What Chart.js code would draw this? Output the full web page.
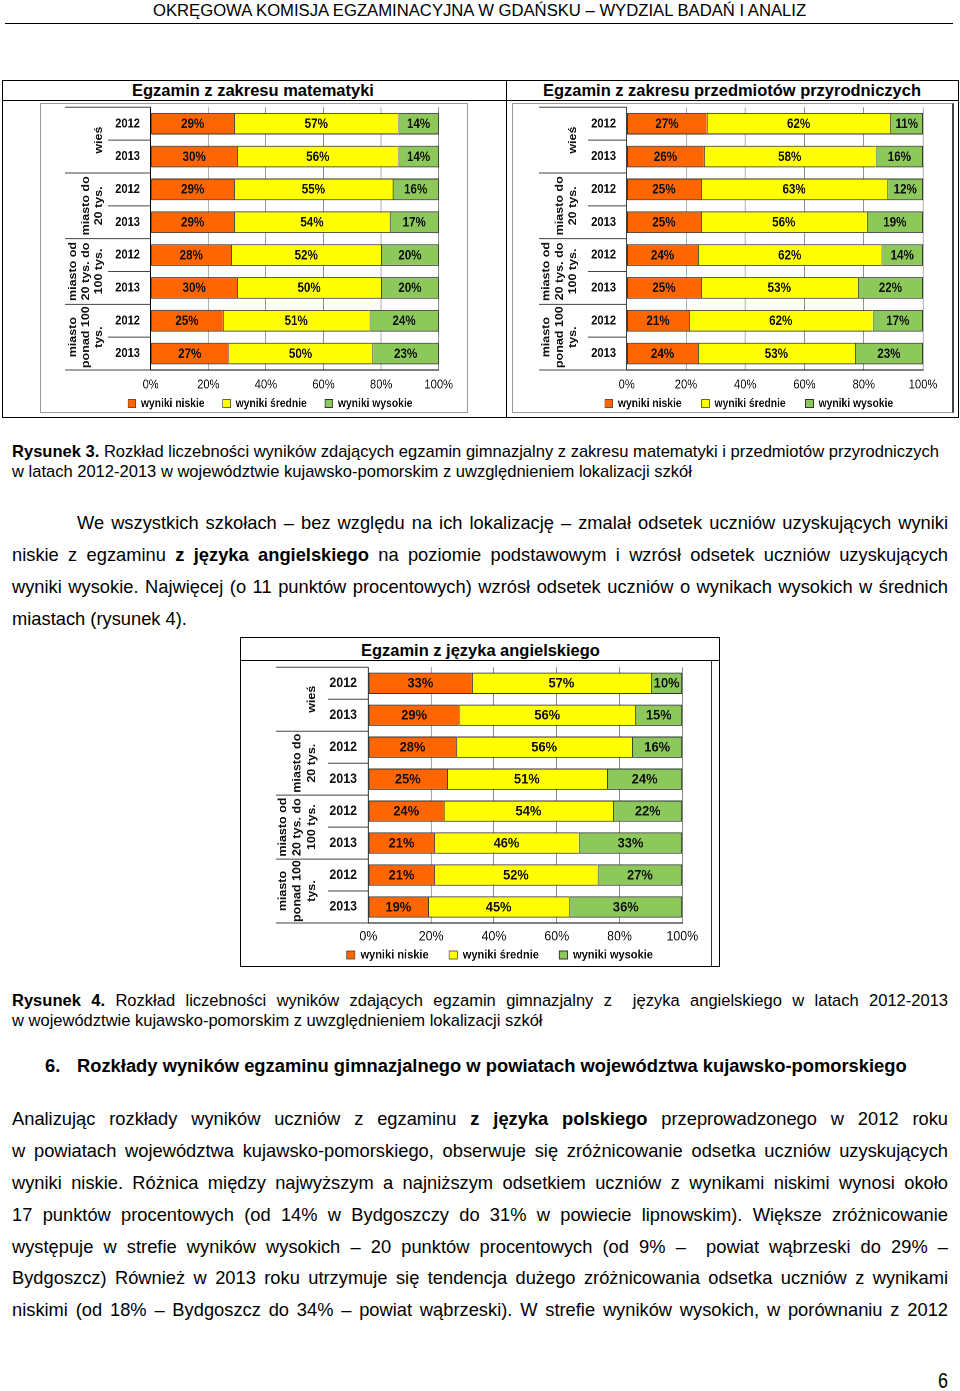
<!DOCTYPE html>
<html><head><meta charset="utf-8">
<script src="https://cdn.jsdelivr.net/npm/chart.js@4.4.1/dist/chart.umd.min.js"></script>
<style>
html,body{margin:0;padding:0;background:#fff;}
body{width:960px;height:1391px;position:relative;overflow:hidden;font-family:'Liberation Sans',Arial,Helvetica,sans-serif;color:#000;}
.t{position:absolute;white-space:nowrap;line-height:1;}
.j{text-align:justify;text-align-last:justify;}
.box{position:absolute;box-sizing:border-box;}
.hl{position:absolute;height:0;border-top:1px solid #000;}
.vl{position:absolute;width:0;border-left:1px solid #000;}
.chartwrap{position:absolute;transform-origin:0 0;}
</style></head><body>

<div class="t" data-g="hdr" data-x="153" data-cy="11" data-w="654" data-fit="1">OKRĘGOWA KOMISJA EGZAMINACYJNA W GDAŃSKU – WYDZIAL BADAŃ I ANALIZ</div>
<div class="hl" style="left:5px;top:23px;width:948px;"></div>

<div class="box" style="left:2px;top:80px;width:957px;height:338px;border:1px solid #000;"></div>
<div class="hl" style="left:2px;top:100px;width:957px;"></div>
<div class="vl" style="left:506px;top:80px;height:338px;"></div>
<div class="t" data-g="tt1" data-x="132" data-cy="90" data-w="242" data-fit="1" style="font-weight:bold">Egzamin z zakresu matematyki</div>
<div class="t" data-g="tt2" data-x="543" data-cy="90" data-w="378" data-fit="1" style="font-weight:bold">Egzamin z zakresu przedmiotów przyrodniczych</div>

<div class="box" style="left:40px;top:103px;width:428px;height:310px;border:1px solid #9a9a9a;"></div>
<div class="box" style="left:512px;top:103px;width:442px;height:310px;border:1px solid #9a9a9a;border-right:2px solid #444;"></div>

<div class="t" data-g="cap3" data-x="12" data-cy="452" data-w="928" data-fit="1"><b>Rysunek 3.</b> Rozkład liczebności wyników zdających egzamin gimnazjalny z zakresu matematyki i przedmiotów przyrodniczych</div>
<div class="t" data-g="cap3" data-x="12" data-cy="472">w latach 2012-2013 w województwie kujawsko-pomorskim z uwzględnieniem lokalizacji szkół</div>

<div class="t" data-g="para" data-x="12" data-cy="619" data-w="175" data-fit="1">miastach (rysunek 4).</div>
<div class="t j" data-g="para" data-x="77" data-cy="523" data-w="871">We wszystkich szkołach – bez względu na ich lokalizację – zmalał odsetek uczniów uzyskujących wyniki</div>
<div class="t j" data-g="para" data-x="12" data-cy="555" data-w="936">niskie z egzaminu <b>z języka angielskiego</b> na poziomie podstawowym i wzrósł odsetek uczniów uzyskujących</div>
<div class="t j" data-g="para" data-x="12" data-cy="587" data-w="936">wyniki wysokie. Najwięcej (o 11 punktów procentowych) wzrósł odsetek uczniów o wynikach wysokich w średnich</div>

<div class="box" style="left:240px;top:637px;width:480px;height:330px;border:1px solid #000;"></div>
<div class="hl" style="left:240px;top:660px;width:480px;"></div>
<div class="vl" style="left:711px;top:660px;height:307px;border-left-color:#333;"></div>
<div class="t" data-g="tt3" data-x="361" data-cy="650" data-w="239" data-fit="1" style="font-weight:bold">Egzamin z języka angielskiego</div>

<div class="t" data-g="cap4" data-x="12" data-cy="1021" data-w="531" data-fit="1">w województwie kujawsko-pomorskim z uwzględnieniem lokalizacji szkół</div>
<div class="t j" data-g="cap4" data-x="12" data-cy="1001" data-w="936"><b>Rysunek 4.</b> Rozkład liczebności wyników zdających egzamin gimnazjalny z &nbsp;języka angielskiego w latach 2012-2013</div>

<div class="t" data-g="head" data-x="77" data-cy="1066" data-w="830" data-fit="1" style="font-weight:bold">Rozkłady wyników egzaminu gimnazjalnego w powiatach województwa kujawsko-pomorskiego</div>
<div class="t" data-g="head" data-x="45" data-cy="1066" style="font-weight:bold">6.</div>

<div class="t j" data-g="para" data-x="12" data-cy="1119" data-w="936">Analizując rozkłady wyników uczniów z egzaminu <b>z języka polskiego</b> przeprowadzonego w 2012 roku</div>
<div class="t j" data-g="para" data-x="12" data-cy="1151" data-w="936">w powiatach województwa kujawsko-pomorskiego, obserwuje się zróżnicowanie odsetka uczniów uzyskujących</div>
<div class="t j" data-g="para" data-x="12" data-cy="1183" data-w="936">wyniki niskie. Różnica między najwyższym a najniższym odsetkiem uczniów z wynikami niskimi wynosi około</div>
<div class="t j" data-g="para" data-x="12" data-cy="1215" data-w="936">17 punktów procentowych (od 14% w Bydgoszczy do 31% w powiecie lipnowskim). Większe zróżnicowanie</div>
<div class="t j" data-g="para" data-x="12" data-cy="1247" data-w="936">występuje w strefie wyników wysokich – 20 punktów procentowych (od 9% – &nbsp;powiat wąbrzeski do 29% –</div>
<div class="t j" data-g="para" data-x="12" data-cy="1278" data-w="936">Bydgoszcz) Również w 2013 roku utrzymuje się tendencja dużego zróżnicowania odsetka uczniów z wynikami</div>
<div class="t j" data-g="para" data-x="12" data-cy="1310" data-w="936">niskimi (od 18% – Bydgoszcz do 34% – powiat wąbrzeski). W strefie wyników wysokich, w porównaniu z 2012</div>

<div class="t" data-g="pg" data-x="938" data-cy="1381" data-w="10" data-fit="1" data-fixed="22">6</div>

<script>
const FONT = "'Liberation Sans', Arial, Helvetica, sans-serif";

// ---------- data ----------
const years = ['2012','2013','2012','2013','2012','2013','2012','2013'];
const groupLabels = [['wieś'], ['miasto do','20 tys.'], ['miasto od','20 tys. do','100 tys.'], ['miasto','ponad 100','tys.']];
const seriesNames = ['wyniki niskie','wyniki średnie','wyniki wysokie'];
const xTickLabels = ['0%','20%','40%','60%','80%','100%'];

const mathLow  = [29,30,29,29,28,30,25,27];
const mathMid  = [57,56,55,54,52,50,51,50];
const mathHigh = [14,14,16,17,20,20,24,23];

const sciLow  = [27,26,25,25,24,25,21,24];
const sciMid  = [62,58,63,56,62,53,62,53];
const sciHigh = [11,16,12,19,14,22,17,23];

const engLow  = [33,29,28,25,24,21,21,19];
const engMid  = [57,56,56,51,54,46,52,45];
const engHigh = [10,15,16,24,22,33,27,36];

const colors = ['#FF6600','#FFFF00','#8DC85B'];

// ---------- text layout ----------
(function layoutText(){
  const els = Array.from(document.querySelectorAll('.t'));
  const gfs = {};
  function natural(el, fs){
    el.style.fontSize = fs + 'px';
    el.style.width = 'auto';
    el.style.display = 'inline-block';
    const w = el.getBoundingClientRect().width;
    el.style.display = '';
    return w;
  }
  els.filter(e => e.dataset.fit).forEach(el => {
    if (el.dataset.fixed) {
      const fs = +el.dataset.fixed;
      const w = natural(el, fs);
      el.style.fontSize = fs + 'px';
      el.style.transformOrigin = '0 0';
      el.style.transform = `scaleX(${(+el.dataset.w)/w})`;
      gfs[el.dataset.g] = fs;
    } else {
      const w = natural(el, 20);
      gfs[el.dataset.g] = 20 * (+el.dataset.w) / w;
    }
  });
  els.forEach(el => {
    const fs = gfs[el.dataset.g];
    el.style.fontSize = fs + 'px';
    el.style.left = el.dataset.x + 'px';
    el.style.top = ((+el.dataset.cy) - 0.49 * fs) + 'px';
    if (el.classList.contains('j')) el.style.width = el.dataset.w + 'px';
  });
})();

// ---------- plugins ----------
const barLabels = {
  id: 'barLabels',
  afterDatasetsDraw(chart, args, o) {
    const ctx = chart.ctx;
    ctx.save();
    ctx.font = `bold ${o.size}px ${FONT}`;
    ctx.fillStyle = o.color;
    ctx.textAlign = 'center';
    ctx.textBaseline = 'middle';
    chart.data.datasets.forEach((ds, i) => {
      chart.getDatasetMeta(i).data.forEach((bar, j) => {
        const p = bar.getProps(['x','y','base'], true);
        ctx.fillText(ds.data[j] + '%', (p.x + p.base) / 2, p.y + 0.5);
      });
    });
    ctx.restore();
  }
};

const decor = {
  id: 'decor',
  afterLayout(chart, args, o) {
    // place the legend row at its line in the picture
    const lg = chart.legend;
    if (lg && o.legendTop != null) {
      const dy = o.legendTop - lg.top;
      lg.top += dy; lg.bottom += dy;
    }
  },
  afterDraw(chart, args, o) {
    const ctx = chart.ctx, ca = chart.chartArea, ys = chart.scales.y;
    const band = ys.getPixelForValue(1) - ys.getPixelForValue(0);
    ctx.save();
    ctx.strokeStyle = o.lineColor;
    ctx.lineWidth = 1;
    for (let b = 0; b <= years.length; b++) {
      const y = b === years.length ? ca.bottom : ys.getPixelForValue(b) - band / 2;
      const x0 = b % 2 === 0 ? o.groupLineX : o.withinLineX;
      ctx.beginPath(); ctx.moveTo(x0, y); ctx.lineTo(ca.left, y); ctx.stroke();
    }
    ctx.font = `bold ${o.groupFont}px ${FONT}`;
    ctx.fillStyle = o.color;
    ctx.textAlign = 'center';
    ctx.textBaseline = 'middle';
    groupLabels.forEach((lines, g) => {
      const cy = (ys.getPixelForValue(2 * g) + ys.getPixelForValue(2 * g + 1)) / 2;
      ctx.save();
      ctx.translate(o.groupX, cy);
      ctx.rotate(-Math.PI / 2);
      lines.forEach((t, k) => ctx.fillText(t, 0, (k - (lines.length - 1)) * o.groupLH));
      ctx.restore();
    });
    ctx.restore();
  }
};

// ---------- chart layout specs (page coordinates) ----------
const L1 = {left:40, top:103, W:428, s:0.86, plotL:150.7, plotR:438.7, plotT:107.3, plotB:370, tickY:385, legendY:403.5, legendX:128, gap1:95, gap2:102, yearRight:140, groupX:99, groupLH:13, groupLineX:65, withinLineX:108, barPct:0.66, yearFont:13, tickFont:13, dataFont:13.5, legendFont:12, groupFont:12.5, boxW:9, boxH:8};
const L2 = {left:512, top:103, W:440, s:0.86, plotL:626.7, plotR:923, plotT:107.3, plotB:370, tickY:385, legendY:403.5, legendX:605, gap1:95.7, gap2:105, yearRight:616, groupX:573, groupLH:13.3, groupLineX:539, withinLineX:588, barPct:0.66, yearFont:13, tickFont:13, dataFont:13.5, legendFont:12, groupFont:12.5, boxW:9, boxH:8};
const L3 = {left:243, top:662, W:468, s:0.92, plotL:368.3, plotR:682.3, plotT:667.3, plotB:923, tickY:937, legendY:955, legendX:346.7, gap1:102.6, gap2:110, yearRight:357, groupX:312, groupLH:14.5, groupLineX:276, withinLineX:328, barPct:0.667, yearFont:13.5, tickFont:13.5, dataFont:14, legendFont:12, groupFont:12.5, boxW:9, boxH:8};

function makeChart(sp, low, mid, high) {
  const s = sp.s;
  const Wl = Math.round(sp.W / s);
  const X = v => (v - sp.left) / s;
  const plotLl = X(sp.plotL), plotRl = X(sp.plotR);
  const padRight = Wl - plotRl;
  const padTop = sp.plotT - sp.top;
  const plotBr = sp.plotB - sp.top;
  const legC = sp.legendY - sp.top;
  const lf = sp.legendFont, ih = Math.max(lf, sp.boxH);
  const m = document.createElement('canvas').getContext('2d');
  m.font = `bold ${lf}px ${FONT}`;
  const iw = seriesNames.map(t => sp.boxW + lf / 2 + m.measureText(t).width);
  const P = Math.max(4, ((sp.gap1 + sp.gap2) / 2) / s - (iw[0] + iw[1]) / 2);
  const tickPad = (sp.tickY - sp.plotB) - 0.6 * sp.tickFont;
  const hx = tickPad + 1.2 * sp.tickFont + 2;
  const LH = ih + P + 10;
  const Hexact = plotBr + hx + LH;
  const H = Math.ceil(Hexact);
  const Pb = H - Hexact;
  const rowW = iw[0] + iw[1] + iw[2] + 2 * P;
  const padLeft = 2 * X(sp.legendX) + rowW - plotRl;
  const yW = plotLl - padLeft;
  const legendTop = legC - P - ih / 2;

  const wrap = document.createElement('div');
  wrap.className = 'chartwrap';
  wrap.style.left = sp.left + 'px';
  wrap.style.top = sp.top + 'px';
  wrap.style.width = Wl + 'px';
  wrap.style.height = H + 'px';
  wrap.style.transform = `scaleX(${s})`;
  const cv = document.createElement('canvas');
  cv.width = Wl; cv.height = H;
  cv.style.width = Wl + 'px'; cv.style.height = H + 'px';
  wrap.appendChild(cv);
  document.body.appendChild(wrap);

  const series = [low, mid, high];
  new Chart(cv, {
    type: 'bar',
    data: {
      labels: years,
      datasets: series.map((d, i) => ({
        label: seriesNames[i],
        data: d,
        backgroundColor: colors[i],
        borderColor: '#333',
        borderWidth: i < 2 ? {top:1, bottom:1, left:1, right:0} : 1,
        borderSkipped: false,
        barPercentage: sp.barPct,
        categoryPercentage: 1
      }))
    },
    plugins: [barLabels, decor],
    options: {
      indexAxis: 'y',
      responsive: false,
      animation: false,
      devicePixelRatio: 2,
      layout: {padding: {left: padLeft, right: padRight, top: padTop, bottom: Pb}},
      scales: {
        x: {
          stacked: true, min: 0, max: 100,
          ticks: {stepSize: 20, autoSkip: false, maxRotation: 0,
                  callback: (v, i) => xTickLabels[i],
                  font: {size: sp.tickFont, family: FONT}, color: '#111',
                  padding: tickPad},
          grid: {color: '#8c8c8c', lineWidth: 1, drawTicks: false},
          border: {display: true, color: '#000', width: 1},
          afterFit: sc => { sc.height = hx; }
        },
        y: {
          stacked: true,
          ticks: {autoSkip: false, font: {size: sp.yearFont, weight: 'bold', family: FONT}, color: '#111',
                  padding: (sp.plotL - sp.yearRight) / s},
          grid: {display: false, drawTicks: false},
          border: {display: true, color: '#000', width: 1},
          afterFit: sc => { sc.width = yW; sc.paddingTop = 0; sc.paddingBottom = 0; }
        }
      },
      plugins: {
        legend: {position: 'bottom',
                 labels: {boxWidth: sp.boxW, boxHeight: sp.boxH, padding: P, color: '#111',
                          font: {size: lf, weight: 'bold', family: FONT}}},
        tooltip: {enabled: false},
        barLabels: {size: sp.dataFont, color: '#111'},
        decor: {lineColor: '#444', color: '#111', groupFont: sp.groupFont,
                groupX: X(sp.groupX), groupLH: sp.groupLH / s,
                groupLineX: X(sp.groupLineX), withinLineX: X(sp.withinLineX),
                legendTop: legendTop}
      }
    }
  });
}

makeChart(L1, mathLow, mathMid, mathHigh);
makeChart(L2, sciLow, sciMid, sciHigh);
makeChart(L3, engLow, engMid, engHigh);
</script>
</body></html>
